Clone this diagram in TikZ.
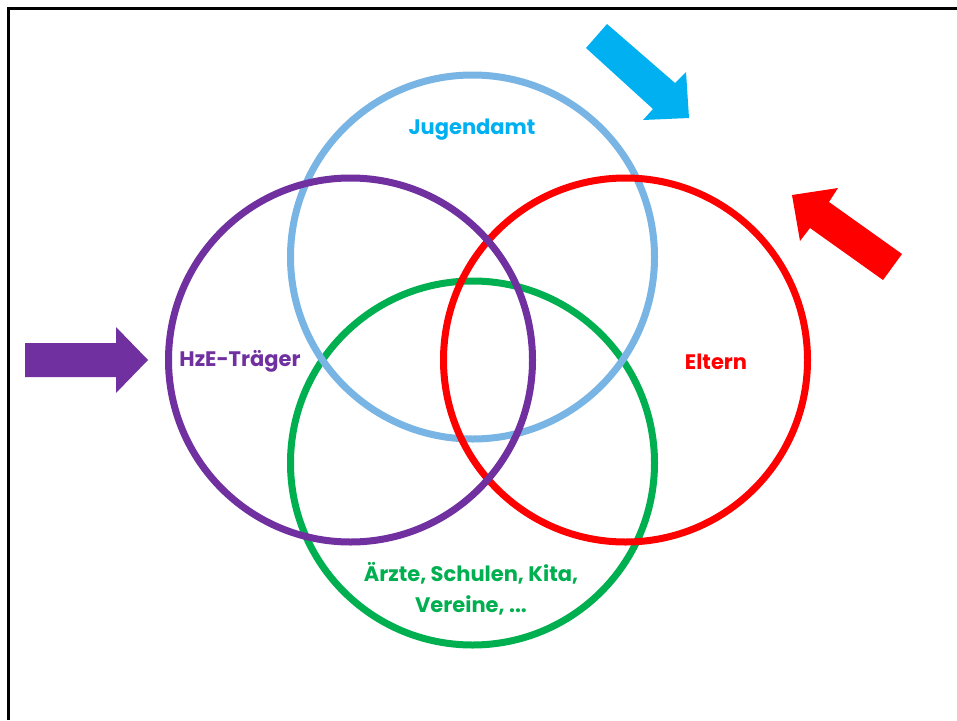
\documentclass[tikz,border=0pt]{standalone}
\usepackage{fontspec}
\setmainfont{Poppins}[BoldFont={Poppins Bold}]
\definecolor{cblue}{RGB}{120,180,228}
\definecolor{cpurple}{RGB}{112,48,160}
\definecolor{cred}{RGB}{255,0,0}
\definecolor{cgreen}{RGB}{0,176,80}
\definecolor{ccyan}{RGB}{0,176,240}
\begin{document}
\begin{tikzpicture}[x=1pt,y=-1pt,
  ring/.style={circle,draw,line width=7pt,minimum size=364pt,inner sep=0pt,outer sep=0pt},
  lbl/.style={font=\fontsize{21}{31}\selectfont\bfseries,align=center,inner sep=0pt}]
\useasboundingbox (0,0) rectangle (957,720);
\fill[white] (0,0) rectangle (957,720);
\draw[line width=3pt] (8,720) -- (8,8) -- (957,8);
% circles: green bottom, then blue, red, purple on top
\node[ring,draw=cgreen] (green) at (472.5,463) {};
\node[ring,draw=cblue] (blue) at (472.5,257) {};
\node[ring,draw=cred] (red) at (625.5,360) {};
\node[ring,draw=cpurple] (purple) at (350.5,360) {};
% labels
\node[lbl,text=ccyan] (tjug) at (472,130) {Jugendamt};
\node[lbl,text=cpurple] (thze) at (240,361) {HzE-Träger};
\node[lbl,text=cred] (telt) at (716,362) {Eltern};
\node[lbl,text=cgreen] (tarz) at (471,589) {Ärzte, Schulen, Kita,\\Vereine, ...};
% arrows
\fill[cpurple] (25,343) -- (116,343) -- (116,327) -- (148,360) -- (116,393) -- (116,377) -- (25,377) -- cycle;
\fill[ccyan] (607,24) -- (675,83) -- (686,72) -- (689,118) -- (643,120) -- (653,109) -- (586,48) -- cycle;
\fill[cred] (792,195) -- (838,188) -- (829,202) -- (902,254) -- (883,280) -- (810,228) -- (800,241) -- cycle;
\end{tikzpicture}
\end{document}
